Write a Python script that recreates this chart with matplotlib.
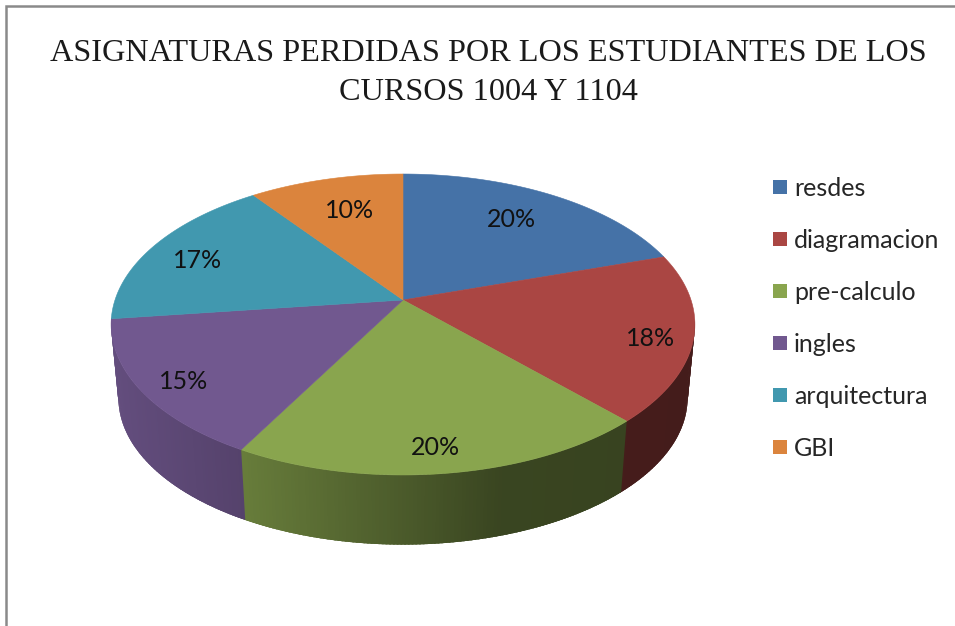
import numpy as np
import matplotlib
matplotlib.use("Agg")
import matplotlib.pyplot as plt
from matplotlib.patches import Polygon, Rectangle

categories = ["resdes", "diagramacion", "pre-calculo", "ingles", "arquitectura", "GBI"]
values = [20, 18, 20, 15, 17, 10]
colors = ["#4572A7", "#AA4643", "#89A54E", "#71588F", "#4198AF", "#DB843D"]
title = "ASIGNATURAS PERDIDAS POR LOS ESTUDIANTES DE LOS\nCURSOS 1004 Y 1104"
label_radius = [0.72, 0.86, 0.85, 0.85, 0.80, 0.70]
label_nudge = [(-3, -3), (-1, 6), (-3, 4), (0, 6), (-4, 5), (3, -2)]

W, H = 955, 626
fig = plt.figure(figsize=(W / 100, H / 100), dpi=100, facecolor="white")
ax = fig.add_axes([0, 0, 1, 1])
ax.set_xlim(0, W)
ax.set_ylim(H, 0)
ax.axis("off")

CX, CY, A, B, K = 403.0, 300.0, 288.0, 146.5, 0.1628
DEPTH, SCALE = 74.0, 0.975


def project(r, theta, bottom=False):
    """theta is clockwise from 12 o'clock, in radians; r in disc units."""
    x, y = r * np.sin(theta), r * np.cos(theta)
    w = 1 + K * y
    sx, sy = A * x / w, B * y / w
    if bottom:
        return CX + SCALE * sx, CY + DEPTH - SCALE * sy
    return CX + sx, CY - sy


def shade(px):
    return np.interp(px, [110, 245, 403, 500, 700], [0.88, 0.75, 0.55, 0.42, 0.40])


vals = np.array(values, dtype=float)
edges = np.concatenate([[0], np.cumsum(vals)]) / vals.sum() * 2 * np.pi

# side wall: each strip overlaps the next so that no seams show
base = [np.array(matplotlib.colors.to_rgb(c)) for c in colors]
for i in range(len(vals)):
    n = max(4, int((edges[i + 1] - edges[i]) * 90))
    th = np.linspace(edges[i], edges[i + 1], n + 1)
    step = th[1] - th[0]
    for t0, t1 in zip(th[:-1], th[1:]):
        if np.cos(t0) > -0.13 and np.cos(t1) > -0.13:
            continue
        t2 = t1 + 1.5 * step
        p = [project(1, t0), project(1, t2), project(1, t2, True), project(1, t0, True)]
        c = base[i] * shade(0.5 * (project(1, t0)[0] + project(1, t1)[0]))
        ax.add_patch(Polygon(p, closed=True, fc=c, ec="none", zorder=2))

# top face
for i in range(len(vals)):
    th = np.linspace(edges[i], edges[i + 1], 120)
    xs, ys = project(1, th)
    pts = np.column_stack([np.r_[CX, xs], np.r_[CY, ys]])
    ax.add_patch(Polygon(pts, closed=True, fc=colors[i], ec=colors[i], lw=0.4, zorder=3))

# percentage labels
for i, v in enumerate(vals):
    mid = (edges[i] + edges[i + 1]) / 2
    lx, ly = project(label_radius[i], mid)
    ax.text(lx + label_nudge[i][0], ly + label_nudge[i][1], f"{v / vals.sum():.0%}",
            ha="center", va="center", zorder=5, family="Lato", fontsize=18, color="#111111")

# title
ax.text(488, 73, title, ha="center", va="center", family="Liberation Serif",
        fontsize=23.2, color="#1a1a1a", linespacing=1.45)

# legend
for i, (name, col) in enumerate(zip(categories, colors)):
    yc = 187 + 52 * i
    ax.add_patch(Rectangle((773, yc - 7), 14, 14, fc=col, ec="none", zorder=4))
    ax.text(794, yc, name, ha="left", va="center_baseline", family="Lato",
            fontsize=18, color="#262626")

# picture frame
ax.plot([6, 6, W], [H, 6, 6], color="#8a8a8a", lw=1.8, solid_joinstyle="miter", zorder=6)

fig.savefig("out.png", dpi=100, facecolor="white")
